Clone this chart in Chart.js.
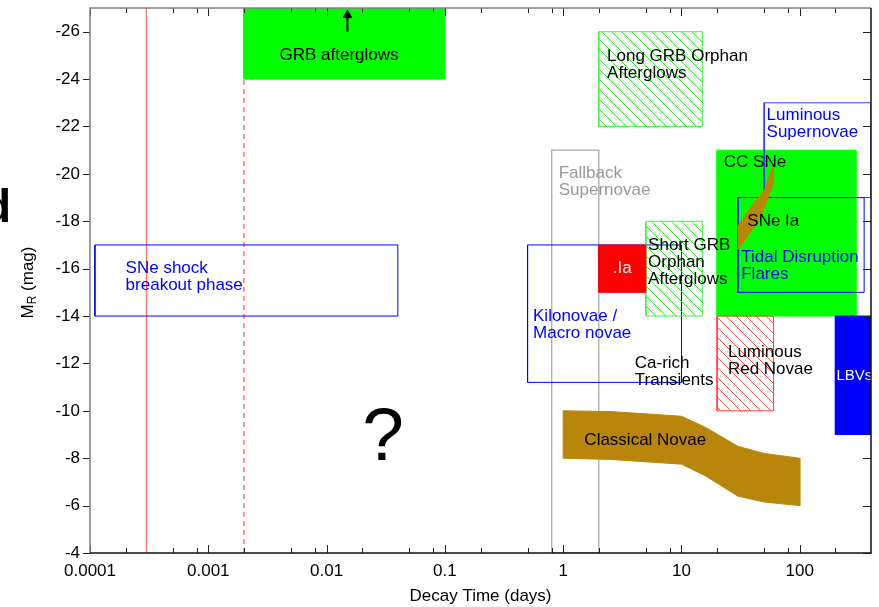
<!DOCTYPE html>
<html>
<head>
<meta charset="utf-8">
<script src="https://cdn.jsdelivr.net/npm/chart.js@4.4.0/dist/chart.umd.min.js"></script>
<style>
  html, body { margin: 0; padding: 0; background: #fff; }
  #wrap { width: 879px; height: 607px; }
</style>
</head>
<body>
<div id="wrap"><canvas id="chart" width="879" height="607"></canvas></div>
<script>
// x = decay time (days, log), y = absolute R magnitude (brighter is up)
const xTickValues = [0.0001, 0.001, 0.01, 0.1, 1, 10, 100];
const xTickLabels = ['0.0001', '0.001', '0.01', '0.1', '1', '10', '100'];
const xMinorSteps = [2, 5, 8];
const yTickValues = [-26, -24, -22, -20, -18, -16, -14, -12, -10, -8, -6, -4];

// boxes: [timeFrom, timeTo, magFaint, magBright]
const grbAfterglows = [0.002, 0.1, -24, -27];
const shockBreakout = [0.00011, 0.04, -14, -17];
const longGrbOrphan = [2, 15, -22, -26];
const fallbackSNe = [0.8, 2, -4, -21];
const dotIa = [2, 5, -15, -17];
const shortGrbOrphan = [5, 15, -14, -18];
const kilonovae = [0.5, 10, -11.2, -17];
const ccSNe = [20, 300, -14, -21];
const luminousSNe = [50, 400, -19, -23];
const tidalDisruption = [30, 350, -15, -19];
const redNovae = [20, 60, -10, -14];
const lbvs = [200, 400, -9, -14];

// single vertical markers
const redLineTime = 0.0003;
const dashedLineTime = 0.002;
const arrowTime = 0.015;
const arrowMag = [-26, -27];

// SNe Ia sliver
const snIaTopTime = [30, 38, 50, 60];
const snIaTopMag = [-17.8, -18.55, -19.3, -20.4];
const snIaBottomTime = [30, 36, 47, 60];
const snIaBottomMag = [-16.8, -17.35, -18.2, -19.6];

// classical novae band
const novaeTime = [1, 2.5, 10, 16, 30, 50, 100];
const novaeBright = [-10, -9.97, -9.77, -9.3, -8.5, -8.2, -8.0];
const novaeFaint = [-8, -7.95, -7.75, -7.25, -6.4, -6.15, -6.0];

// text labels anchored in data space
const labels = [
  { lines: ['GRB afterglows'], t: 0.004, m: -25.0, color: '#000' },
  { lines: ['SNe shock', 'breakout phase'], t: 0.0002, m: -16.0, color: '#0000ff' },
  { lines: ['Long GRB Orphan', 'Afterglows'], t: 2.35, m: -24.95, color: '#000' },
  { lines: ['Luminous', 'Supernovae'], t: 52.4, m: -22.48, color: '#0000ff' },
  { lines: ['CC SNe'], t: 22.8, m: -20.47, color: '#000' },
  { lines: ['SNe Ia'], t: 36, m: -17.98, color: '#000' },
  { lines: ['Tidal Disruption', 'Flares'], t: 32, m: -16.48, color: '#0000ff' },
  { lines: ['Fallback', 'Supernovae'], t: 0.916, m: -20.02, color: '#999' },
  { lines: ['.Ia'], t: 3.16, m: -16.0, color: '#fff', align: 'center' },
  { lines: ['Short GRB', 'Orphan', 'Afterglows'], t: 5.22, m: -17.0, color: '#000' },
  { lines: ['Kilonovae /', 'Macro novae'], t: 0.556, m: -14.0, color: '#0000ff' },
  { lines: ['Ca-rich', 'Transients'], t: 4.03, m: -12.0, color: '#000' },
  { lines: ['Luminous', 'Red Novae'], t: 24.7, m: -12.49, color: '#000' },
  { lines: ['LBVs'], t: 204, m: -11.47, color: '#fff', size: 15 },
  { lines: ['Classical Novae'], t: 1.51, m: -8.77, color: '#000' }
];

const FONT = '"Liberation Sans", Arial, Helvetica, sans-serif';
const canvas = document.getElementById('chart');

function hatch(color) {
  const c = document.createElement('canvas');
  c.width = 10; c.height = 10;
  const g = c.getContext('2d');
  g.strokeStyle = color;
  g.lineWidth = 1;
  g.beginPath();
  g.moveTo(-2, -2); g.lineTo(12, 12);
  g.moveTo(-2, 8); g.lineTo(2, 12);
  g.moveTo(8, -2); g.lineTo(12, 2);
  g.stroke();
  return canvas.getContext('2d').createPattern(c, 'repeat');
}

function boxPoints(b) {
  return [
    { x: b[0], y: b[2] }, { x: b[1], y: b[2] },
    { x: b[1], y: b[3] }, { x: b[0], y: b[3] }, { x: b[0], y: b[2] }
  ];
}

function shape(points, fillColor, lineColor, width, dash) {
  return {
    data: points,
    showLine: true,
    fill: fillColor ? 'shape' : false,
    backgroundColor: fillColor || 'transparent',
    borderColor: lineColor,
    borderWidth: width || 1,
    borderDash: dash || [],
    pointRadius: 0,
    tension: 0
  };
}

const snIaPoints = snIaTopTime.map((t, i) => ({ x: t, y: snIaTopMag[i] }))
  .concat(snIaBottomTime.map((t, i) => ({ x: t, y: snIaBottomMag[i] })).reverse());
const novaePoints = novaeTime.map((t, i) => ({ x: t, y: novaeBright[i] }))
  .concat(novaeTime.map((t, i) => ({ x: t, y: novaeFaint[i] })).reverse());
snIaPoints.push(snIaPoints[0]);
novaePoints.push(novaePoints[0]);

const green = '#00ff00';
const greenHatch = hatch('#33ee33');
const redHatch = hatch('#ff5050');

// listed bottom to top
const layers = [
  shape([{ x: redLineTime, y: -4 }, { x: redLineTime, y: -27 }], null, '#ff7070', 1.2),
  shape([{ x: dashedLineTime, y: -4 }, { x: dashedLineTime, y: -27 }], null, '#ff3030', 1, [5, 4]),
  shape(boxPoints(grbAfterglows), green, green, 1),
  Object.assign(shape([{ x: arrowTime, y: arrowMag[0] }, { x: arrowTime, y: arrowMag[1] + 0.3 }], null, '#000', 2), {
    pointRadius: [0, 5], pointStyle: 'triangle', pointBackgroundColor: '#000', pointBorderColor: '#000', pointBorderWidth: 1
  }),
  shape(boxPoints(shockBreakout), null, '#0000ff', 1),
  shape(boxPoints(fallbackSNe), null, '#aaaaaa', 1.3),
  shape(boxPoints(longGrbOrphan), greenHatch, '#44ee44', 1),
  shape(boxPoints(ccSNe), green, green, 1),
  shape(boxPoints(redNovae), redHatch, '#ff4040', 1),
  shape(boxPoints(lbvs), '#0000ff', '#0000ff', 1),
  shape(boxPoints(luminousSNe), null, '#3333ff', 1),
  shape(boxPoints(tidalDisruption), null, '#0000ff', 1),
  shape(boxPoints(kilonovae), null, '#0000ff', 1),
  shape(boxPoints(shortGrbOrphan), greenHatch, '#44ee44', 1),
  shape(boxPoints(dotIa), '#ff0000', '#ff0000', 1),
  shape(snIaPoints, '#b8860b', '#b8860b', 1),
  shape(novaePoints, '#b8860b', '#b8860b', 1)
];
const datasets = layers.map((d, i) => Object.assign(d, { order: layers.length - i }));

function isDecade(v) {
  const l = Math.log10(v);
  return Math.abs(l - Math.round(l)) < 1e-6;
}

const decor = {
  id: 'decor',
  afterDatasetsDraw(chart) {
    const { ctx, chartArea: a, scales: { x, y } } = chart;
    ctx.save();
    ctx.beginPath();
    ctx.rect(a.left, a.top, a.right - a.left, a.bottom - a.top);
    ctx.clip();
    ctx.textBaseline = 'middle';
    labels.forEach(l => {
      ctx.font = (l.size || 17) + 'px ' + FONT;
      ctx.fillStyle = l.color;
      ctx.textAlign = l.align || 'left';
      const px = x.getPixelForValue(l.t);
      const py = y.getPixelForValue(l.m);
      l.lines.forEach((s, i) => ctx.fillText(s, px, py + i * 17));
    });
    // question mark
    ctx.font = '75px ' + FONT;
    ctx.textAlign = 'center';
    ctx.textBaseline = 'alphabetic';
    ctx.fillStyle = '#000';
    ctx.fillText('?', x.getPixelForValue(0.03), y.getPixelForValue(-7.92));
    ctx.restore();
  },
  afterDraw(chart) {
    const { ctx, chartArea: a, scales: { x, y } } = chart;
    ctx.save();
    // ticks
    ctx.strokeStyle = '#222';
    ctx.lineWidth = 1;
    x.ticks.forEach(tk => {
      const px = Math.round(x.getPixelForValue(tk.value)) + 0.5;
      const len = isDecade(tk.value) ? 8 : 5;
      ctx.beginPath();
      ctx.moveTo(px, a.bottom); ctx.lineTo(px, a.bottom - len);
      ctx.moveTo(px, a.top); ctx.lineTo(px, a.top + len);
      ctx.stroke();
    });
    y.ticks.forEach(tk => {
      const py = Math.round(y.getPixelForValue(tk.value)) + 0.5;
      ctx.beginPath();
      ctx.moveTo(a.left - 7, py); ctx.lineTo(a.left, py);
      ctx.moveTo(a.right, py); ctx.lineTo(a.right - 8, py);
      ctx.stroke();
    });
    // frame
    ctx.lineWidth = 1.5;
    ctx.strokeStyle = '#808080';
    ctx.beginPath();
    ctx.moveTo(a.left, a.bottom); ctx.lineTo(a.left, a.top); ctx.lineTo(a.right, a.top);
    ctx.stroke();
    ctx.strokeStyle = '#111';
    ctx.beginPath();
    ctx.moveTo(a.right, a.top); ctx.lineTo(a.right, a.bottom); ctx.lineTo(a.left, a.bottom);
    ctx.stroke();
    // axis titles
    ctx.fillStyle = '#000';
    ctx.font = '17px ' + FONT;
    ctx.textAlign = 'center';
    ctx.textBaseline = 'middle';
    ctx.fillText('Decay Time (days)', (a.left + a.right) / 2, 596);
    ctx.translate(28, (a.top + a.bottom) / 2 + 2);
    ctx.rotate(-Math.PI / 2);
    ctx.textAlign = 'left';
    const wM = ctx.measureText('M').width;
    const rest = ' (mag)';
    const wRest = ctx.measureText(rest).width;
    ctx.font = '12px ' + FONT;
    const wR = ctx.measureText('R').width;
    const start = -(wM + wR + wRest) / 2;
    ctx.font = '17px ' + FONT;
    ctx.fillText('M', start, 0);
    ctx.fillText(rest, start + wM + wR, 0);
    ctx.font = '12px ' + FONT;
    ctx.fillText('R', start + wM, 5);
    ctx.restore();
    // clipped glyph at the left edge
    ctx.save();
    ctx.font = 'bold 46px ' + FONT;
    ctx.textAlign = 'right';
    ctx.fillStyle = '#000';
    ctx.fillText('d', 11, 222);
    ctx.restore();
  }
};

new Chart(canvas, {
  type: 'scatter',
  data: { datasets },
  options: {
    responsive: false,
    animation: false,
    devicePixelRatio: 1,
    layout: { padding: { left: 0, right: 8, top: 8, bottom: 0 } },
    plugins: { legend: { display: false }, tooltip: { enabled: false } },
    events: [],
    scales: {
      x: {
        type: 'logarithmic',
        min: 0.0001,
        max: 400,
        grid: { display: false, drawTicks: false },
        border: { display: false },
        afterBuildTicks: s => {
          const ticks = [];
          xTickValues.forEach(v => {
            ticks.push({ value: v });
            xMinorSteps.forEach(m => { if (v * m <= 400) ticks.push({ value: v * m }); });
          });
          s.ticks = ticks;
        },
        afterFit: s => { s.height = 54; s.paddingLeft = 0; s.paddingRight = 0; },
        ticks: {
          autoSkip: false,
          maxRotation: 0,
          padding: 8,
          color: '#000',
          font: { family: FONT, size: 17 },
          callback: v => {
            const i = xTickValues.findIndex(t => Math.abs(t - v) / t < 1e-6);
            return i >= 0 ? xTickLabels[i] : '';
          }
        }
      },
      y: {
        type: 'linear',
        min: -27,
        max: -4,
        reverse: true,
        grid: { display: false, drawTicks: false },
        border: { display: false },
        afterBuildTicks: s => { s.ticks = yTickValues.map(v => ({ value: v })); },
        afterFit: s => { s.width = 90; s.paddingTop = 0; s.paddingBottom = 0; },
        ticks: {
          padding: 10,
          color: '#000',
          font: { family: FONT, size: 17 },
          callback: v => String(v)
        }
      }
    }
  },
  plugins: [decor]
});
</script>
</body>
</html>
